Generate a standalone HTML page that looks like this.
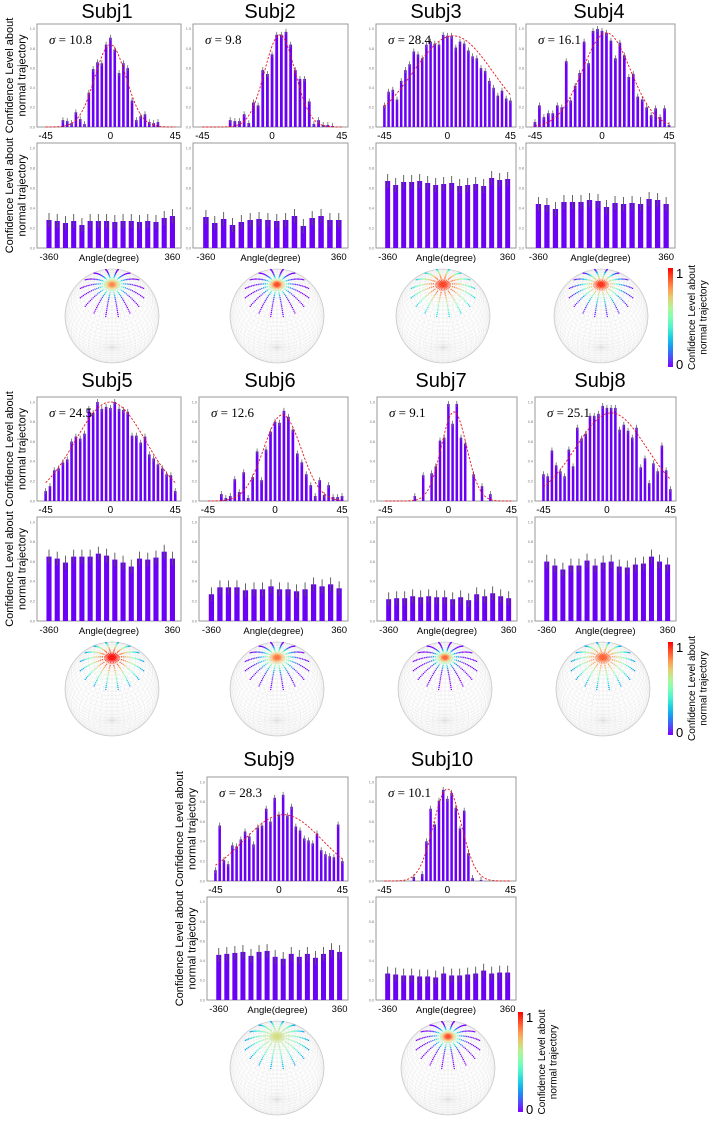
<!DOCTYPE html>
<html><head><meta charset="utf-8">
<style>
html,body{margin:0;padding:0;background:#fff;}
svg{display:block;font-family:"Liberation Sans",sans-serif;}
</style></head>
<body>
<svg id="fig" width="713" height="1122" viewBox="0 0 713 1122" xmlns="http://www.w3.org/2000/svg"></svg>
<script>
// ---------- data ----------
const topAngles = [-45,-42,-39,-36,-33,-30,-27,-24,-21,-18,-15,-12,-9,-6,-3,0,3,6,9,12,15,18,21,24,27,30,33,36,39,42,45];
const topTickLabels = ["-45","0","45"];
const topTickValues = [-45,0,45];
const botAngles = [-360,-312,-264,-216,-168,-120,-72,-24,24,72,120,168,216,264,312,360];
const botTickLabels = ["-360","360"];
const botTickValues = [-360,360];
const yTickValues = [0,0.2,0.4,0.6,0.8,1.0];
const yTickLabels = ["0.0","0.2","0.4","0.6","0.8","1.0"];
const subjectNames = ["Subj1","Subj2","Subj3","Subj4","Subj5","Subj6","Subj7","Subj8","Subj9","Subj10"];

const sub1Top = [0,0,0,0,.07,.06,.04,.15,.08,.03,.35,.59,.66,.65,.84,.91,.79,.55,.65,.60,.27,.07,.11,.13,.05,.04,.05,0,0,0,0];
const sub2Top = [0,0,0,0,0,0,.07,.06,.06,.13,.04,.25,.22,.58,.54,.74,.94,.94,.97,.84,.58,.49,.49,.26,.03,.07,.02,.02,.01,0,0];
const sub3Top = [.22,.36,.38,.28,.47,.58,.64,.77,.74,.70,.84,.87,.85,.84,.94,.93,.93,.81,.87,.85,.78,.72,.70,.60,.57,.47,.40,.32,.37,.29,.27];
const sub4Top = [.05,.22,.10,.14,.14,.22,.20,.67,.27,.42,.55,.87,.65,.98,1.0,.98,.96,.88,.70,.86,.73,.51,.54,.31,.28,.20,.12,.19,.10,.19,.02];
const sub5Top = [.10,.15,.31,.33,.39,.42,.60,.65,.63,.68,.93,.89,1.0,.93,.95,.94,1.0,.93,.92,.90,.66,.66,.59,.65,.47,.43,.37,.33,.27,.26,.10];
const sub6Top = [0,0,0,.07,.03,.05,.22,.09,.29,.03,.24,.50,.21,.52,.70,.80,.79,.91,.85,.72,.48,.39,.27,.16,.05,.21,.06,.16,.04,.04,.05];
const sub7Top = [0,0,0,0,0,0,0,.05,0,.26,0,.28,.35,.61,.64,.98,.78,.98,.64,.58,0,.27,0,.15,0,.07,0,0,0,0,0];
const sub8Top = [.27,.25,.51,.36,.30,.25,.52,.35,.74,.63,.68,.86,.86,.88,.96,.94,.94,.94,.72,.77,.71,.64,.74,.34,.43,.18,.38,.30,.56,.31,.12];
const sub9Top = [.11,.56,.21,.17,.36,.35,.42,.50,.45,.37,.54,.56,.73,.60,.84,.67,.87,.66,.75,.55,.51,.43,.41,.38,.48,.31,.27,.25,.24,.57,.20];
const sub10Top = [0,0,0,0,0,0,0,.04,0,.07,.40,.73,.57,.81,.92,.83,.89,.74,.53,.71,.28,.03,0,.01,0,0,0,0,0,0,0];

const sub1Bot = [.28,.27,.25,.27,.23,.27,.27,.27,.26,.27,.27,.26,.27,.26,.30,.32];
const sub2Bot = [.31,.25,.29,.23,.26,.28,.29,.28,.27,.28,.32,.22,.30,.32,.28,.28];
const sub3Bot = [.67,.63,.66,.66,.67,.65,.63,.64,.65,.62,.63,.64,.62,.70,.68,.69];
const sub4Bot = [.44,.43,.39,.46,.46,.46,.48,.47,.41,.45,.44,.45,.44,.49,.48,.44];
const sub5Bot = [.65,.63,.59,.65,.65,.65,.68,.66,.62,.59,.55,.63,.62,.64,.70,.63];
const sub6Bot = [.27,.34,.34,.34,.31,.32,.32,.35,.32,.32,.30,.32,.37,.35,.37,.33];
const sub7Bot = [.22,.23,.23,.25,.24,.25,.24,.24,.22,.24,.21,.27,.25,.28,.25,.23];
const sub8Bot = [.60,.56,.52,.56,.56,.61,.56,.59,.60,.55,.54,.57,.58,.65,.60,.57];
const sub9Bot = [.46,.47,.48,.49,.45,.49,.50,.44,.42,.47,.44,.47,.43,.47,.51,.49];
const sub10Bot = [.27,.26,.25,.25,.24,.24,.23,.27,.25,.25,.26,.27,.30,.27,.28,.28];

// gaussian fit: amplitude, mean, sigma
const fitAmp = [0.84,0.94,0.93,0.96,1.0,0.87,0.90,0.89,0.67,0.93];
const fitMean = [0,5,4,3,0,5,4,3,3,0];
const fitSigma = [10.8,9.8,28.4,16.1,24.5,12.6,9.1,25.1,28.3,10.1];
const topErr = 0.03;
const botErr = 0.07;

const allTop = [sub1Top,sub2Top,sub3Top,sub4Top,sub5Top,sub6Top,sub7Top,sub8Top,sub9Top,sub10Top];
const allBot = [sub1Bot,sub2Bot,sub3Bot,sub4Bot,sub5Bot,sub6Bot,sub7Bot,sub8Bot,sub9Bot,sub10Bot];

// ---------- layout (pixels) ----------
const layout = [
 {x0:37,x1:181,ty:[24,127],by:[143,248],sph:[112,316],tc:107,tb:18,ylab:true},
 {x0:193,x1:348,ty:[24,127],by:[143,248],sph:[277,316],tc:270,tb:18,ylab:false},
 {x0:376,x1:516,ty:[24,127],by:[143,248],sph:[443,316],tc:436,tb:18,ylab:false},
 {x0:526,x1:675,ty:[24,127],by:[143,248],sph:[601,316],tc:599,tb:18,ylab:false},
 {x0:37,x1:181,ty:[397,501],by:[517,621],sph:[112,689],tc:107,tb:387,ylab:true},
 {x0:199,x1:348,ty:[397,501],by:[517,621],sph:[277,689],tc:270,tb:387,ylab:false},
 {x0:377,x1:517,ty:[397,501],by:[517,621],sph:[445,689],tc:441,tb:387,ylab:false},
 {x0:535,x1:676,ty:[397,501],by:[517,621],sph:[603,689],tc:600,tb:387,ylab:false},
 {x0:207,x1:348,ty:[777,881],by:[897,1000],sph:[277,1068],tc:269,tb:766,ylab:true},
 {x0:376,x1:516,ty:[777,881],by:[897,1000],sph:[448,1068],tc:442,tb:766,ylab:false}
];
const colorbars = [
 {x:668,y0:268,y1:367},
 {x:668,y0:642,y1:735},
 {x:518,y0:1012,y1:1112}
];

const NS = "http://www.w3.org/2000/svg";
const svg = document.getElementById('fig');
function mk(tag, attrs, parent){
  const e = document.createElementNS(NS, tag);
  for (const k in attrs) e.setAttribute(k, attrs[k]);
  (parent||svg).appendChild(e);
  return e;
}
function rainbow(t){
  t = Math.max(0, Math.min(1, t));
  const R = Math.round(255*Math.min(1, Math.abs(2*t-0.5)));
  const G = Math.round(255*Math.sin(Math.PI*t));
  const B = Math.round(255*Math.cos(Math.PI*t/2));
  return `rgb(${R},${G},${B})`;
}

function drawSubject(i){
  const L = layout[i];
  const topVals = allTop[i], botVals = allBot[i];
  const g = mk('g', {});
  
  

  const title = mk('text', {x:L.tc, y:L.tb, 'font-size':20, 'text-anchor':'middle', fill:'#000'}, g);
  
  
  title.textContent = subjectNames[i];

  const W = L.x1 - L.x0;
  // ---- top panel ----
  const tx = v => L.x0 + (v + 51) / 100 * W;
  const tyS = v => L.ty[1] - v / 1.05 * (L.ty[1] - L.ty[0]);
  const topG = mk('g', {}, g);
  
  
  const frame = mk('rect', {x:L.x0, y:L.ty[0], width:W, height:L.ty[1]-L.ty[0], fill:'none', stroke:'#999', 'stroke-width':1}, topG);
  
  
  const bw = 3 / 100 * W * 0.6;
  topAngles.forEach((a, k) => {
    const v = topVals[k];
    const bar = mk('rect', {x:tx(a)-bw/2, y:tyS(v), width:bw, height:tyS(0)-tyS(v), fill:'#6a00f5'}, topG);
    
    
    if (v > 0) {
      const eb = mk('line', {x1:tx(a), x2:tx(a), y1:tyS(v+topErr), y2:tyS(Math.max(0,v-topErr)), stroke:'#666', 'stroke-width':0.8}, topG);
      
      
    }
  });
  let d = '';
  for (let a = -45; a <= 45.01; a += 1) {
    const v = fitAmp[i] * Math.exp(-((a - fitMean[i]) ** 2) / (2 * fitSigma[i] ** 2));
    d += (d ? 'L' : 'M') + tx(a).toFixed(2) + ',' + tyS(v).toFixed(2);
  }
  const fit = mk('path', {d:d, fill:'none', stroke:'#e8141c', 'stroke-width':0.9, 'stroke-dasharray':'2.2,1.6'}, topG);
  
  
  const sig = mk('text', {x:L.x0+12, y:L.ty[0]+20, 'font-size':13, 'font-family':'"Liberation Serif",serif', fill:'#000'}, topG);
  
  
  sig.innerHTML = '<tspan font-style="italic">σ</tspan> = ' + fitSigma[i];
  topTickValues.forEach((t, k) => {
    const tl = mk('text', {x:tx(t), y:L.ty[1]+12, 'font-size':10, 'text-anchor':'middle', fill:'#000'}, topG);
    
    
    tl.textContent = topTickLabels[k];
  });
  yTickValues.forEach((t, k) => {
    const yl = mk('text', {x:L.x0-2, y:tyS(t)+1.3, 'font-size':3.8, 'text-anchor':'end', fill:'#777'}, topG);
    
    
    yl.textContent = yTickLabels[k];
  });

  // ---- bottom panel ----
  const bx = v => L.x0 + (v + 430) / 840 * W;
  const byS = v => L.by[1] - v / 1.05 * (L.by[1] - L.by[0]);
  const botG = mk('g', {}, g);
  
  
  const frame2 = mk('rect', {x:L.x0, y:L.by[0], width:W, height:L.by[1]-L.by[0], fill:'none', stroke:'#999', 'stroke-width':1}, botG);
  
  
  const bw2 = 48 / 840 * W * 0.62;
  botAngles.forEach((a, k) => {
    const v = botVals[k];
    const bar = mk('rect', {x:bx(a)-bw2/2, y:byS(v), width:bw2, height:byS(0)-byS(v), fill:'#6a00f5'}, botG);
    
    
    const eb = mk('line', {x1:bx(a), x2:bx(a), y1:byS(v+botErr), y2:byS(v-botErr), stroke:'#555', 'stroke-width':0.9}, botG);
    
    
  });
  botTickValues.forEach((t, k) => {
    const tl = mk('text', {x:bx(t), y:L.by[1]+12, 'font-size':9.5, 'text-anchor':'middle', fill:'#000'}, botG);
    
    
    tl.textContent = botTickLabels[k];
  });
  const xt = mk('text', {x:(L.x0+L.x1)/2, y:L.by[1]+13, 'font-size':9.5, 'text-anchor':'middle', fill:'#000'}, botG);
  
  
  xt.textContent = 'Angle(degree)';
  yTickValues.forEach((t, k) => {
    const yl = mk('text', {x:L.x0-2, y:byS(t)+1.3, 'font-size':3.8, 'text-anchor':'end', fill:'#777'}, botG);
    
    
    yl.textContent = yTickLabels[k];
  });

  if (L.ylab) {
    [[L.ty[0],L.ty[1]],[L.by[0],L.by[1]]].forEach(p => {
      const cy = (p[0]+p[1])/2, cx = L.x0 - 24;
      const t = mk('text', {x:0, y:0, 'font-size':11, 'text-anchor':'middle', fill:'#000', transform:`translate(${cx},${cy}) rotate(-90)`}, g);
      
      
      t.innerHTML = '<tspan x="0" dy="0">Confidence Level about</tspan><tspan x="0" dy="12.5">normal trajectory</tspan>';
    });
  }

  drawSphere(i, L.sph[0], L.sph[1], 47, g);
}

function drawSphere(i, cx, cy, r, parent){
  const sg = mk('g', {}, parent);
  
  
  const al = 48 * Math.PI / 180;
  const proj = (th, ph) => {
    const x = Math.sin(th)*Math.cos(ph), y = Math.cos(th), z = Math.sin(th)*Math.sin(ph);
    const y2 = y*Math.cos(al) - z*Math.sin(al);
    const z2 = y*Math.sin(al) + z*Math.cos(al);
    return [cx + r*x, cy - r*y2, z2];
  };
  let d = '';
  for (let lat = 5; lat < 180; lat += 5) {
    const th = lat*Math.PI/180;
    for (let k = 0; k <= 72; k++) {
      const p = proj(th, k*5*Math.PI/180);
      d += (k ? 'L' : 'M') + p[0].toFixed(1) + ',' + p[1].toFixed(1);
    }
  }
  for (let lon = 0; lon < 360; lon += 7.5) {
    const ph = lon*Math.PI/180;
    for (let k = 0; k <= 36; k++) {
      const p = proj(k*5*Math.PI/180, ph);
      d += (k ? 'L' : 'M') + p[0].toFixed(1) + ',' + p[1].toFixed(1);
    }
  }
  const mesh = mk('path', {d:d, fill:'none', stroke:'#dcdcdc', 'stroke-width':0.2}, sg);
  
  
  const outline = mk('circle', {cx:cx, cy:cy, r:r, fill:'none', stroke:'#c4c4c4', 'stroke-width':0.6}, sg);
  
  
  const val = deg => fitAmp[i] * Math.exp(-(deg*deg) / (2*fitSigma[i]*fitSigma[i]));
  for (let deg = 1.5; deg <= 9; deg += 1.5) {
    for (let k = 0; k < 24; k++) {
      const p = proj(deg*Math.PI/180, k*15*Math.PI/180);
      const dot = mk('circle', {cx:p[0], cy:p[1], r:0.55, fill:rainbow(val(deg))}, sg);
      
      
    }
  }
  for (let k = 0; k < 16; k++) {
    for (let deg = 12; deg <= 45; deg += 2.4) {
      const p = proj(deg*Math.PI/180, (k*22.5+11.25)*Math.PI/180);
      const dot = mk('circle', {cx:p[0], cy:p[1], r:0.7, fill:rainbow(val(deg))}, sg);
      
      
    }
  }
}

function drawColorbar(c){
  const defs = mk('defs', {});
  const gid = 'cbgrad' + c.y0;
  const lg = mk('linearGradient', {id:gid, x1:0, y1:1, x2:0, y2:0}, defs);
  for (let s = 0; s <= 10; s++) mk('stop', {offset:s/10, 'stop-color':rainbow(s/10)}, lg);
  const cg = mk('g', {});
  
  
  const rect = mk('rect', {x:c.x, y:c.y0, width:5, height:c.y1-c.y0, fill:`url(#${gid})`}, cg);
  
  
  const t1 = mk('text', {x:c.x+8, y:c.y0+10, 'font-size':13, fill:'#000'}, cg);
  
  
  t1.textContent = '1';
  const t0 = mk('text', {x:c.x+8, y:c.y1+2, 'font-size':13, fill:'#000'}, cg);
  
  
  t0.textContent = '0';
  const cy = (c.y0+c.y1)/2;
  const tt = mk('text', {x:0, y:0, 'font-size':10, 'text-anchor':'middle', fill:'#000', transform:`translate(${c.x+27},${cy}) rotate(-90)`}, cg);
  
  
  tt.innerHTML = '<tspan x="0" dy="0">Confidence Level about</tspan><tspan x="0" dy="11.5">normal trajectory</tspan>';
}

for (let i = 0; i < 10; i++) drawSubject(i);
colorbars.forEach(drawColorbar);
</script>
</body></html>
